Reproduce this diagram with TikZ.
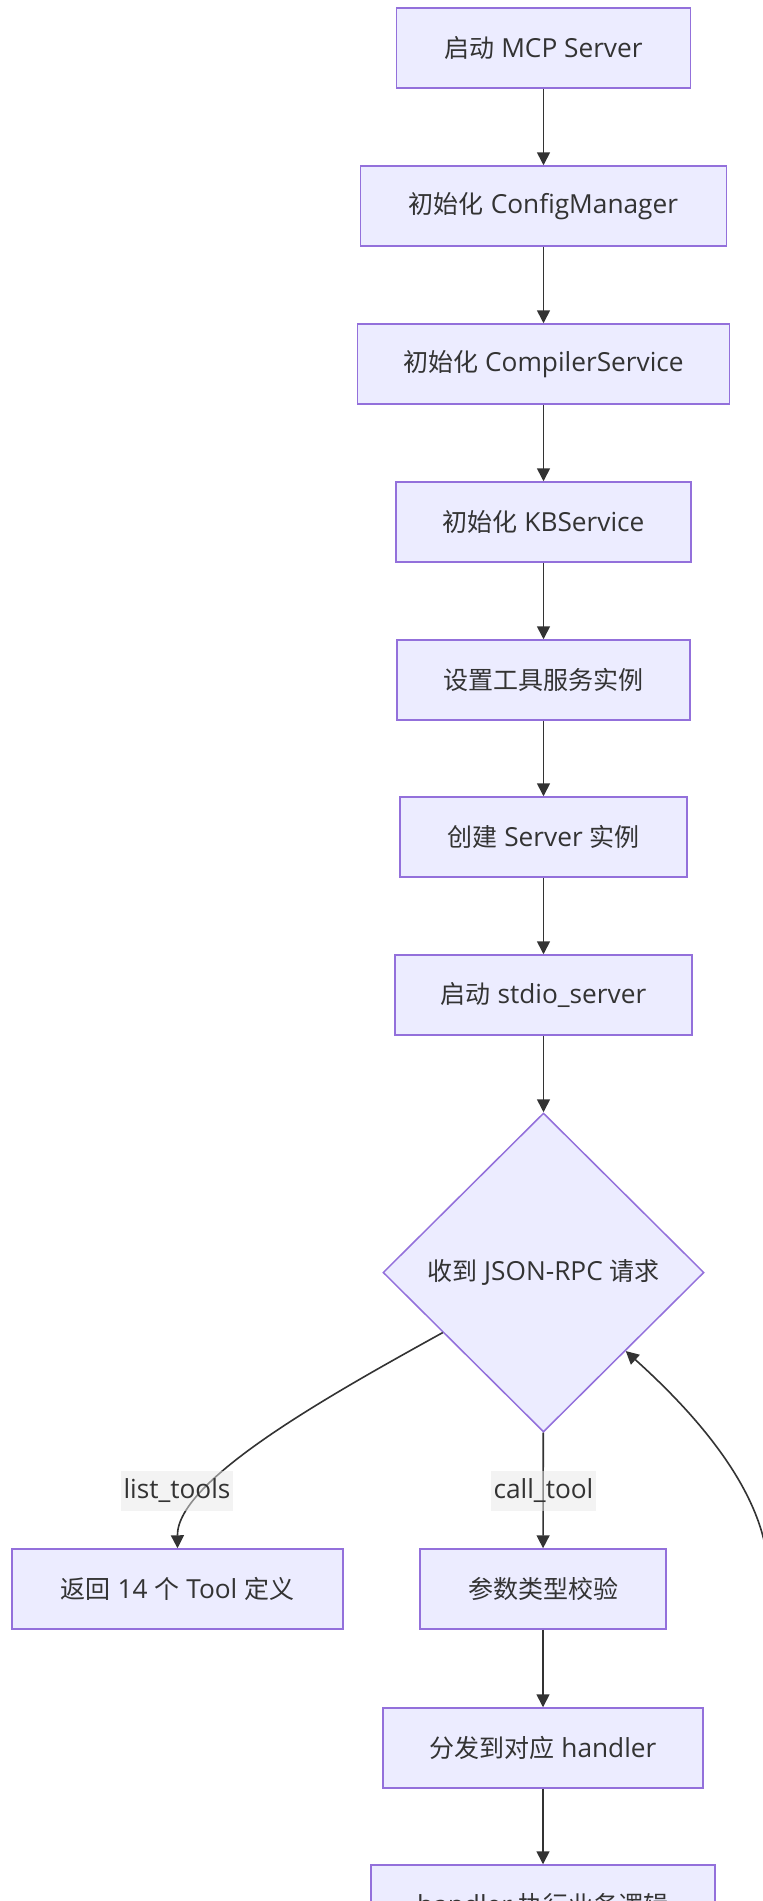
\documentclass[tikz,border=0pt]{standalone}
\usepackage{fontspec}
\setmainfont{Open Sans}[Scale=1.05]
\newfontfamily\zhfont{Noto Sans CJK SC}
\newcommand\zh[1]{{\zhfont #1}}
\usetikzlibrary{arrows.meta,shapes.geometric,calc}
\definecolor{nodefill}{HTML}{ECECFF}
\definecolor{nodeline}{HTML}{9370DB}
\definecolor{ink}{HTML}{333333}
\definecolor{labelbg}{HTML}{E8E8E8}
\tikzset{
  labelfont/.style={font=\fontsize{25pt}{30pt}\selectfont},
  box/.style={draw=nodeline, fill=nodefill, line width=1.5pt, minimum height=80pt,
    inner sep=0pt, text=ink, labelfont},
  decision/.style={diamond, draw=nodeline, fill=nodefill, line width=1.5pt,
    minimum width=321pt, minimum height=319pt, inner sep=0pt, text=ink, labelfont},
  flow/.style={draw=ink, line width=1.6pt, -{Triangle[length=13pt,width=13pt]}},
  edgelabel/.style={fill=labelbg, fill opacity=0.5, text opacity=1, text=ink,
    inner sep=0pt, minimum height=40pt, labelfont},
}
\begin{document}
\begin{tikzpicture}[x=1pt,y=-1pt]
\useasboundingbox (0,0) rectangle (763,1901);
\clip (0,0) rectangle (763,1901);
\fill[white] (0,0) rectangle (763,1901);

% start-up sequence
\node[box, minimum width=294pt] (n1) at (543.5,48)  {\zh{启动} MCP Server};
\node[box, minimum width=366pt] (n2) at (543.5,206) {\zh{初始化} ConfigManager};
\node[box, minimum width=372pt] (n3) at (543.5,364) {\zh{初始化} CompilerService};
\node[box, minimum width=295pt] (n4) at (543.5,522) {\zh{初始化} KBService};
\node[box, minimum width=293pt] (n5) at (543.5,680) {\zh{设置工具服务实例}};
\node[box, minimum width=287pt] (n6) at (543.5,837) {\zh{创建} Server \zh{实例}};
\node[box, minimum width=297pt] (n7) at (543.5,995) {\zh{启动} stdio\_server};

% request dispatch
\node[decision] (d) at (543.5,1272.5) {\zh{收到} JSON-RPC \zh{请求}};
\node[box, minimum width=331pt] (n8)  at (177.5,1589) {\zh{返回} 14 \zh{个} Tool \zh{定义}};
\node[box, minimum width=246pt] (n9)  at (543,1589)   {\zh{参数类型校验}};
\node[box, minimum width=320pt] (n10) at (543,1748)   {\zh{分发到对应} handler};
\node[box, minimum width=344pt] (n11) at (543,1905)   {handler \zh{执行业务逻辑}};

\draw[flow] (n1) -- (n2);
\draw[flow] (n2) -- (n3);
\draw[flow] (n3) -- (n4);
\draw[flow] (n4) -- (n5);
\draw[flow] (n5) -- (n6);
\draw[flow] (n6) -- (n7);
\draw[flow] (n7) -- (d);
\draw[flow] (d) -- (n9);
\draw[flow] (n9) -- (n10);
\draw[flow] (n10) -- (n11);

\coordinate (dl) at ($(d.west)!0.375!(d.south)$);
\draw[flow] (dl) .. controls (330,1395) and (177,1480) .. (n8.north);

% loop back from the handler chain
\coordinate (back) at (768,1580);
\coordinate (dr) at ($(d.east)!0.49!(d.south)$);
\draw[flow] (back) .. controls (772,1490) and (680,1400) .. (dr);

\node[edgelabel, minimum width=112pt] (l1) at (177,1491)   {list\_tools};
\node[edgelabel, minimum width=105pt] (l2) at (543.5,1491) {call\_tool};
\end{tikzpicture}
\end{document}
